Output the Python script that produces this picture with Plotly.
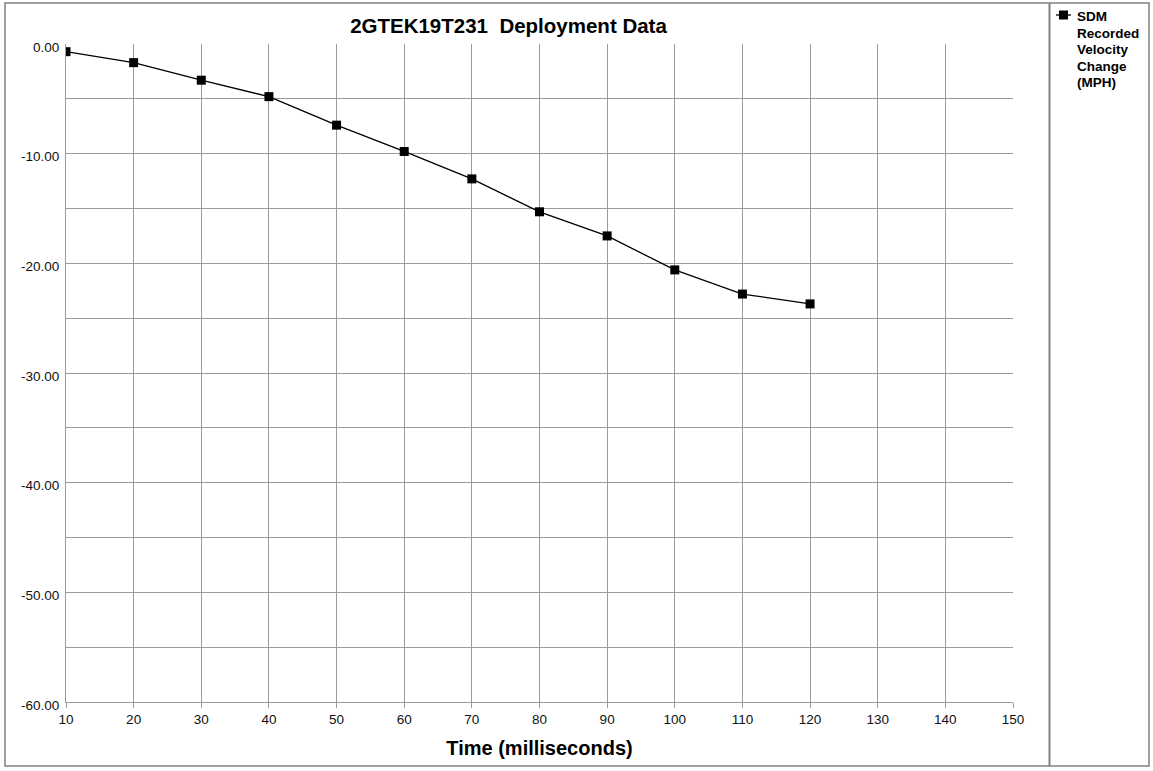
import plotly.graph_objects as go

time_ms = [10, 20, 30, 40, 50, 60, 70, 80, 90, 100, 110, 120]
velocity_change = [-0.7, -1.7, -3.3, -4.8, -7.4, -9.8, -12.3, -15.3, -17.5, -20.6, -22.8, -23.7]
y_tick_vals = [0, -10, -20, -30, -40, -50, -60]
y_tick_labels = ["0.00", "-10.00", "-20.00", "-30.00", "-40.00", "-50.00", "-60.00"]
legend_lines = ["SDM", "Recorded", "Velocity", "Change", "(MPH)"]
title_text = "<b>2GTEK19T231  Deployment Data</b>"
x_title = "<b>Time (milliseconds)</b>"

W, H = 1153, 771
L, R, T, B = 66, 1013, 44, 702

def px(x):
    return (x - L) / (R - L)

def py(y):
    return (B - y) / (B - T)

fig = go.Figure()
fig.add_trace(go.Scatter(
    x=time_ms, y=velocity_change, mode="lines+markers", name="SDM Recorded Velocity Change (MPH)",
    line=dict(color="black", width=1.3),
    marker=dict(symbol="square", size=9, color="black"),
))

grid = "#9a9a9a"
fig.update_layout(
    width=W, height=H,
    margin=dict(l=L, r=W - R, t=T, b=H - B, autoexpand=False),
    paper_bgcolor="white", plot_bgcolor="white",
    font=dict(family="Arial, Liberation Sans, sans-serif", color="#111", size=13.5),
    title=dict(text=title_text, x=508.5 / W, xanchor="center", y=1 - 26 / H, yanchor="middle",
               font=dict(size=20.5, color="black")),
    showlegend=False,
    xaxis=dict(range=[10, 150], dtick=10, tick0=10, showgrid=True, gridcolor=grid, gridwidth=1,
               ticks="outside", ticklen=5, tickcolor=grid, showline=True, linecolor=grid, linewidth=1,
               zeroline=False, mirror=False, automargin=False,
               title=dict(text=x_title, font=dict(size=20, color="black"), standoff=14)),
    yaxis=dict(range=[-60, 0], tickmode="array", tickvals=y_tick_vals, ticktext=y_tick_labels,
               showgrid=True, gridcolor=grid,
               gridwidth=1, ticks="", showline=True, linecolor=grid, linewidth=1, zeroline=False,
               ticklabelstandoff=3, ticklabelshift=3, automargin=False,
               minor=dict(dtick=5, tick0=0, showgrid=True, gridcolor=grid, gridwidth=1)),
)

# legend (manual)
for i, t in enumerate(legend_lines):
    fig.add_annotation(text="<b>" + t + "</b>", xref="paper", yref="paper",
                       x=px(1075), y=py(16.5 + i * 16.6), xanchor="left", yanchor="middle",
                       showarrow=False, font=dict(size=13.5, color="black"))
fig.add_shape(type="line", xref="paper", yref="paper", x0=px(1056), x1=px(1071),
              y0=py(15), y1=py(15), line=dict(color="black", width=1.3))
fig.add_shape(type="rect", xref="paper", yref="paper", x0=px(1059), x1=px(1068),
              y0=py(19.5), y1=py(10.5), line=dict(color="black", width=0), fillcolor="black")

# outer border and legend divider
fig.add_shape(type="rect", xref="paper", yref="paper",
              x0=px(5), x1=px(1149), y0=py(766), y1=py(3),
              line=dict(color="#808080", width=1.5), layer="above")
fig.add_shape(type="line", xref="paper", yref="paper",
              x0=px(1049.5), x1=px(1049.5), y0=py(766), y1=py(3),
              line=dict(color="#808080", width=2), layer="above")

fig.write_html("out.html", config={"displayModeBar": False},
               post_script="document.body.style.margin='0';document.body.style.overflow='hidden';")
